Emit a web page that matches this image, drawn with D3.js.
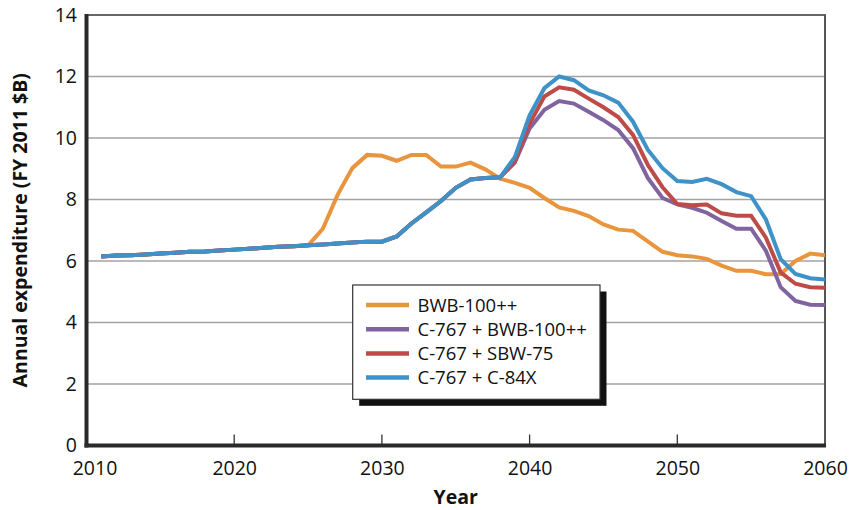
<!DOCTYPE html>
<html>
<head>
<meta charset="utf-8">
<script src="https://cdn.jsdelivr.net/npm/d3@7"></script>
<style>
  html, body { margin: 0; padding: 0; background: #fff; }
  svg { display: block; font-family: "Open Sans", "Noto Sans", sans-serif; }
</style>
</head>
<body>
<svg id="chart" width="849" height="510"></svg>
<script>
// ---------- data ----------
const years = d3.range(2011, 2061);
const seriesNames = ["BWB-100++", "C-767 + BWB-100++", "C-767 + SBW-75", "C-767 + C-84X"];
const seriesColors = ["#E8953D", "#7F64A0", "#BD4C48", "#3E92C7"];

const bwb100 = [6.15, 6.18, 6.19, 6.21, 6.24, 6.27, 6.30, 6.31, 6.34, 6.37,
  6.40, 6.43, 6.46, 6.48, 6.50, 7.05, 8.15, 9.02, 9.45, 9.42,
  9.26, 9.45, 9.45, 9.07, 9.07, 9.20, 8.98, 8.68, 8.54, 8.38,
  8.05, 7.74, 7.63, 7.46, 7.19, 7.02, 6.98, 6.64, 6.30, 6.19,
  6.15, 6.07, 5.85, 5.68, 5.68, 5.57, 5.58, 6.00, 6.24, 6.19];

const c767Bwb = [6.15, 6.18, 6.19, 6.21, 6.24, 6.27, 6.30, 6.31, 6.34, 6.37,
  6.40, 6.43, 6.46, 6.48, 6.51, 6.54, 6.57, 6.60, 6.63, 6.63,
  6.80, 7.22, 7.58, 7.95, 8.38, 8.65, 8.70, 8.72, 9.20, 10.31,
  10.92, 11.20, 11.12, 10.85, 10.58, 10.26, 9.67, 8.70, 8.05, 7.84,
  7.73, 7.57, 7.30, 7.05, 7.05, 6.33, 5.15, 4.70, 4.58, 4.57];

const c767Sbw = [6.15, 6.18, 6.19, 6.21, 6.24, 6.27, 6.30, 6.31, 6.34, 6.37,
  6.40, 6.43, 6.46, 6.48, 6.51, 6.54, 6.57, 6.60, 6.63, 6.63,
  6.80, 7.22, 7.58, 7.95, 8.38, 8.65, 8.70, 8.72, 9.25, 10.47,
  11.35, 11.65, 11.57, 11.28, 11.00, 10.68, 10.10, 9.13, 8.40, 7.85,
  7.81, 7.84, 7.55, 7.47, 7.47, 6.76, 5.63, 5.26, 5.15, 5.13];

const c767C84x = [6.15, 6.18, 6.19, 6.21, 6.24, 6.27, 6.30, 6.31, 6.34, 6.37,
  6.40, 6.43, 6.46, 6.48, 6.51, 6.54, 6.57, 6.60, 6.63, 6.63,
  6.80, 7.22, 7.58, 7.95, 8.38, 8.65, 8.70, 8.72, 9.38, 10.74,
  11.62, 12.00, 11.88, 11.55, 11.39, 11.15, 10.53, 9.62, 9.02, 8.60,
  8.57, 8.67, 8.50, 8.24, 8.11, 7.35, 6.06, 5.58, 5.44, 5.40];

const xTicks = [2010, 2020, 2030, 2040, 2050, 2060];
const yTicks = [0, 2, 4, 6, 8, 10, 12, 14];
const xTitle = "Year";
const yTitle = "Annual expenditure (FY 2011 $B)";

// ---------- chart ----------
const svg = d3.select("#chart");
const pLeft = 86.5, pRight = 825, pTop = 15, pBottom = 445.5;
const x = d3.scaleLinear().domain([2010, 2060]).range([pLeft, pRight]);
const y = d3.scaleLinear().domain([0, 14]).range([pBottom, pTop]);

svg.append("rect").attr("width", 849).attr("height", 510).attr("fill", "#fff");

// gridlines
svg.append("g").selectAll("line")
  .data(yTicks.filter(v => v > 0 && v < 14))
  .join("line")
  .attr("x1", pLeft).attr("x2", pRight)
  .attr("y1", d => y(d)).attr("y2", d => y(d))
  .attr("stroke", "#a3a3a3").attr("stroke-width", 1.5);

// top and right frame
svg.append("line").attr("x1", pLeft).attr("x2", pRight + 1)
  .attr("y1", y(14)).attr("y2", y(14))
  .attr("stroke", "#666").attr("stroke-width", 2);
svg.append("line").attr("x1", pRight).attr("x2", pRight)
  .attr("y1", y(14)).attr("y2", pBottom)
  .attr("stroke", "#555").attr("stroke-width", 2);

// x ticks (inside)
svg.append("g").selectAll("line")
  .data(xTicks.filter(v => v > 2010 && v < 2060))
  .join("line")
  .attr("x1", d => x(d)).attr("x2", d => x(d))
  .attr("y1", pBottom).attr("y2", pBottom - 11)
  .attr("stroke", "#333").attr("stroke-width", 1.3);

// lines
const lineGen = d3.line().x((d, i) => x(years[i])).y(d => y(d));
const allSeries = [bwb100, c767Bwb, c767Sbw, c767C84x];
svg.append("g").selectAll("path")
  .data(allSeries)
  .join("path")
  .attr("d", d => lineGen(d))
  .attr("fill", "none")
  .attr("stroke", (d, i) => seriesColors[i])
  .attr("stroke-width", 4)
  .attr("stroke-linejoin", "miter");

// axes lines
svg.append("line").attr("x1", pLeft).attr("x2", pLeft)
  .attr("y1", pTop - 1).attr("y2", pBottom + 2)
  .attr("stroke", "#2a2a2a").attr("stroke-width", 4);
svg.append("line").attr("x1", pLeft - 2).attr("x2", pRight + 1)
  .attr("y1", pBottom).attr("y2", pBottom)
  .attr("stroke", "#2a2a2a").attr("stroke-width", 4);

// axis labels
const yAxis = svg.append("g").attr("transform", `translate(${pLeft},0)`)
  .call(d3.axisLeft(y).tickValues(yTicks).tickSize(0).tickPadding(9.5));
yAxis.select(".domain").remove();
yAxis.selectAll("text").attr("font-size", 19.5).attr("fill", "#111")
  .attr("font-family", '"Open Sans", sans-serif');

const xAxis = svg.append("g").attr("transform", `translate(0,${pBottom})`)
  .call(d3.axisBottom(x).tickValues(xTicks).tickFormat(d3.format("d")).tickSize(0).tickPadding(16));
xAxis.select(".domain").remove();
xAxis.selectAll("text").attr("font-size", 19.5).attr("fill", "#111")
  .attr("font-family", '"Open Sans", sans-serif')
  .attr("dx", d => d === 2010 ? 8 : 0);

// titles
svg.append("text").attr("x", (pLeft + pRight) / 2).attr("y", 504)
  .attr("text-anchor", "middle").attr("font-weight", "bold").attr("font-size", 19.5)
  .attr("fill", "#111").text(xTitle);
svg.append("text").attr("transform", `translate(27,${(pTop + pBottom) / 2}) rotate(-90)`)
  .attr("text-anchor", "middle").attr("font-weight", "bold").attr("font-size", 19.5)
  .attr("fill", "#111").text(yTitle);

// legend
const lg = svg.append("g");
const lx = 352.7, ly = 285, lw = 247.3, lh = 114.3;
lg.append("rect").attr("x", lx + 6.5).attr("y", ly + 6.5).attr("width", lw).attr("height", lh)
  .attr("fill", "#111");
lg.append("rect").attr("x", lx).attr("y", ly).attr("width", lw).attr("height", lh)
  .attr("fill", "#fff").attr("stroke", "#333").attr("stroke-width", 1.2);
const rows = lg.selectAll("g.row").data(seriesNames).join("g")
  .attr("class", "row")
  .attr("transform", (d, i) => `translate(0,${305 + i * 24.2})`);
rows.append("line").attr("x1", 366).attr("x2", 409).attr("y1", 0).attr("y2", 0)
  .attr("stroke", (d, i) => seriesColors[i]).attr("stroke-width", 4.5);
rows.append("text").attr("x", 417.5).attr("y", 0).attr("dy", "0.36em")
  .attr("font-size", 18.5).attr("fill", "#111").text(d => d);
</script>
</body>
</html>
